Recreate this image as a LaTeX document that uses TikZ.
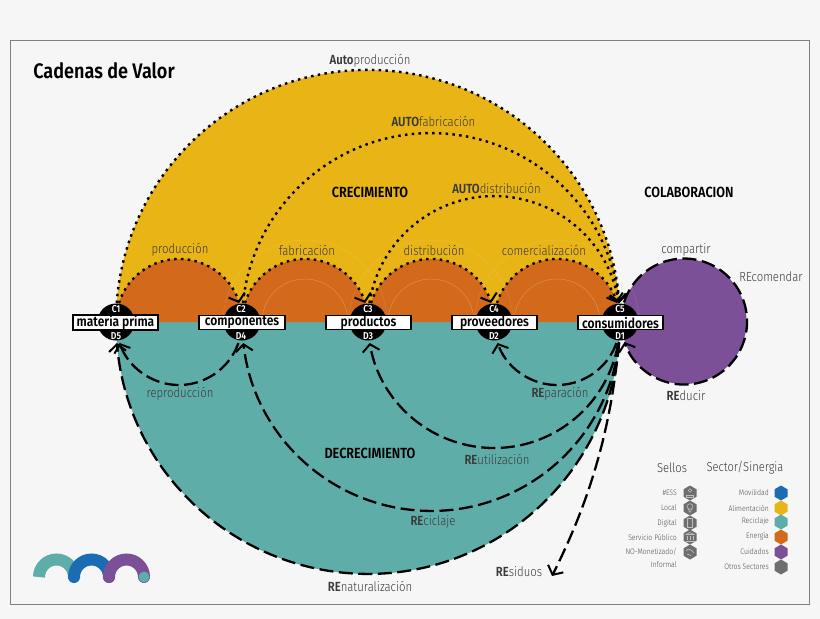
\documentclass[tikz,border=0pt]{standalone}
\usepackage{fontspec}
\setmainfont[FakeStretch=0.86]{Fira Sans Light}[BoldFont={Fira Sans SemiBold}]
\usetikzlibrary{arrows.meta}
\definecolor{yel}{HTML}{E8B416}
\definecolor{ora}{HTML}{D2691B}
\definecolor{tea}{HTML}{5FADA9}
\definecolor{pur}{HTML}{7B5097}
\definecolor{blu}{HTML}{1C6CB3}
\definecolor{gry}{HTML}{6E6E6E}
\definecolor{bgc}{HTML}{F6F6F6}
\definecolor{txt}{HTML}{3A3A3A}
\tikzset{
 x=1pt,y=-1pt,
 dotl/.style={line width=2.4pt,dash pattern=on 2.5pt off 4.3pt,black},
 dashl/.style={line width=2.3pt,dash pattern=on 14pt off 5.5pt,black},
 tipo/.style={-{Straight Barb[length=7pt,width=17pt,line width=2pt]}},
 lab/.style={font=\fontsize{13.2}{15}\selectfont,text=txt,inner sep=0pt},
 head/.style={font=\bfseries\fontsize{14.7}{16}\selectfont,text=black,inner sep=0pt},
 cnode/.style={circle,fill=black,minimum size=37pt,inner sep=0pt},
 cd/.style={font=\bfseries\fontsize{10}{11}\selectfont,text=white,inner sep=0pt},
 bx/.style={draw=black,fill=white,line width=1.8pt,minimum height=14pt,minimum width=85.5pt,inner sep=0pt,font=\bfseries\fontsize{14}{15}\selectfont},
 sm/.style={font=\fontsize{8}{9}\selectfont,text=black!70,inner sep=0pt,anchor=east},
 icon/.style={draw=black!25,line width=.6pt},
}
\newcommand{\hexa}[3]{\fill[#3] (#1,#2-7.5) -- (#1+6.5,#2-3.7) -- (#1+6.5,#2+3.7) -- (#1,#2+7.5) -- (#1-6.5,#2+3.7) -- (#1-6.5,#2-3.7) -- cycle;}
\begin{document}
\begin{tikzpicture}
\useasboundingbox (0,0) rectangle (820,619);
\fill[bgc] (0,0) rectangle (820,619);
\draw[draw=black!50,line width=0.9pt] (10.5,40.5) rectangle (809.5,604.5);
% fills
\fill[yel] (116,322) arc[start angle=180,end angle=360,radius=252];
\fill[tea] (116,322) arc[start angle=180,end angle=0,radius=252];
\fill[ora] (116,322) arc[start angle=180,end angle=360,radius=63];
\fill[ora] (242,322) arc[start angle=180,end angle=360,radius=63];
\fill[ora] (368,322) arc[start angle=180,end angle=360,radius=63];
\fill[ora] (494,322) arc[start angle=180,end angle=360,radius=63];
\fill[pur] (684,321.5) circle[radius=62.5];
% faint rings
\begin{scope}[white,line width=.5pt]
\foreach \c in {305,431,557}{
 \draw[opacity=.25] (\c-43,322) arc[start angle=180,end angle=360,radius=43];
 \draw[opacity=.13] (\c-82,322) arc[start angle=180,end angle=360,radius=82];}
\end{scope}
% nodes
\node[cnode] (n1) at (116,322) {};
\node[cnode] (n2) at (242,322) {};
\node[cnode] (n3) at (368,322) {};
\node[cnode] (n4) at (494,322) {};
\node[cnode] (n5) at (620,322) {};
% dotted arcs (upper half)
\coordinate (a0) at (116.7,303);
\coordinate (a1) at (119,303);
\coordinate (a2) at (245,303);
\coordinate (a3) at (371,303);
\coordinate (a4) at (497,303);
\coordinate (a5) at (243,303);
\coordinate (a6) at (369.5,303);
\draw[dotl,tipo] (a0) arc[start angle=184.3,end angle=355.7,radius=252];
\draw[dotl,tipo] (a1) arc[start angle=197.5,end angle=342.5,radius=63];
\draw[dotl,tipo] (a2) arc[start angle=197.5,end angle=342.5,radius=63];
\draw[dotl,tipo] (a3) arc[start angle=197.5,end angle=342.5,radius=63];
\draw[dotl,tipo] (a4) arc[start angle=197.5,end angle=342.5,radius=63];
\draw[dotl,tipo] (a5) arc[start angle=185.8,end angle=354.2,radius=189];
\draw[dotl,tipo] (a6) arc[start angle=188.7,end angle=351.3,radius=126];
% dashed arcs (lower half)
\coordinate (d1) at (616.4,343);
\coordinate (d2) at (238.4,343);
\coordinate (d3) at (618.2,343);
\coordinate (d4) at (619,343);
\coordinate (d5) at (619.1,343);
\coordinate (d6) at (619,342);
\coordinate (res) at (552,576);
\draw[dashl,tipo] (d1) arc[start angle=19.5,end angle=160.5,radius=63];
\draw[dashl,tipo] (d2) arc[start angle=19.5,end angle=160.5,radius=63];
\draw[dashl,tipo] (d3) arc[start angle=9.6,end angle=170.4,radius=126];
\draw[dashl,tipo] (d4) arc[start angle=6.4,end angle=173.6,radius=189];
\draw[dashl,tipo] (d5) arc[start angle=4.8,end angle=175.2,radius=252];
\draw[dashl,tipo] (d6) .. controls (610,440) and (585,510) .. (res);
% purple ring
\coordinate (p0) at (624,302.5);
\draw[dashl,tipo] (p0) arc[start angle=197.6,end angle=521,radius=63];
% labels
\node[cd] (c1) at (116,309) {C1};\node[cd] (d5l) at (116,336) {D5};
\node[cd] (c2) at (241,309) {C2};\node[cd] (d4l) at (241,336) {D4};
\node[cd] (c3) at (368,309) {C3};\node[cd] (d3l) at (368,336) {D3};
\node[cd] (c4) at (494,309) {C4};\node[cd] (d2l) at (494,336) {D2};
\node[cd] (c5) at (620,309) {C5};\node[cd] (d1l) at (620,336) {D1};
\node[bx] (bmp) at (115.5,322.5) {materia prima};
\node[bx] (bco) at (242,322.5) {componentes};
\node[bx] (bpr) at (368.5,322.5) {productos};
\node[bx] (bpv) at (494.5,322.5) {proveedores};
\node[bx] (bcs) at (620.5,322.5) {consumidores};
\node[font=\bfseries\fontsize{21}{24}\selectfont,inner sep=0pt] (title) at (104,71) {Cadenas de Valor};
\node[lab] (l1) at (370,61) {\textbf{Auto}producción};
\node[lab] (l2) at (433.5,121) {\textbf{AUTO}fabricación};
\node[lab] (l3) at (496.5,188) {\textbf{AUTO}distribución};
\node[head] (h1) at (370,192) {CRECIMIENTO};
\node[head] (h2) at (689,192) {COLABORACION};
\node[head] (h3) at (370,453) {DECRECIMIENTO};
\node[lab] (l4) at (180,250) {producción};
\node[lab] (l5) at (307,250) {fabricación};
\node[lab] (l6) at (434,250) {distribución};
\node[lab] (l7) at (544,250) {comercialización};
\node[lab] (l8) at (686,250) {compartir};
\node[lab] (l9) at (771,277) {REcomendar};
\node[lab] (l10) at (180,393.5) {reproducción};
\node[lab] (l11) at (560,393.5) {\textbf{RE}paración};
\node[lab] (l12) at (686,396) {\textbf{RE}ducir};
\node[lab] (l13) at (497,459) {\textbf{RE}utilización};
\node[lab] (l14) at (433,522) {\textbf{RE}ciclaje};
\node[lab] (l15) at (370,586) {\textbf{RE}naturalización};
\node[lab] (l16) at (519,572) {\textbf{RE}siduos};
% legend
\node[lab,font=\fontsize{13}{15}\selectfont] (s0) at (672,468) {Sellos};
\node[lab,font=\fontsize{13}{15}\selectfont] (s1) at (745,468) {Sector/Sinergia};
\node[sm] (s2) at (677,493) {\#ESS};
\node[sm] (s3) at (677,508) {Local};
\node[sm] (s4) at (677,523) {Digital};
\node[sm] (s5) at (677,537) {Servicio Público};
\node[sm] (s6) at (677,552) {NO-Monetizado/};
\node[sm] (s7) at (677,565) {Informal};
\node[sm] (s8) at (769,493) {Movilidad};
\node[sm] (s9) at (769,508) {Alimentación};
\node[sm] (s10) at (769,521) {Reciclaje};
\node[sm] (s11) at (769,536) {Energía};
\node[sm] (s12) at (769,552) {Cuidados};
\node[sm] (s13) at (769,567) {Otros Sectores};
\hexa{690}{493}{gry}\hexa{690}{508}{gry}\hexa{690}{523}{gry}\hexa{690}{537}{gry}\hexa{690}{552}{gry}
\hexa{781}{493}{blu}\hexa{781}{508}{yel}\hexa{781}{522}{tea}\hexa{781}{537}{ora}\hexa{781}{552}{pur}\hexa{781}{567}{gry}
% seal icons
\draw[icon] (690,490.5) circle[radius=1.8];
\draw[icon] (686.5,497) -- (686.5,495) -- (693.5,495) -- (693.5,497) -- cycle;
\draw[icon] (690,506.5) circle[radius=2.8];
\draw[icon] (688,509) -- (690,512.5) -- (692,509);
\draw[icon] (687.5,518.5) rectangle (692.5,527.5);
\draw[icon] (686,534.5) -- (690,532.5) -- (694,534.5) -- cycle;
\draw[icon] (687,536) -- (687,540) (690,536) -- (690,540) (693,536) -- (693,540) (685.5,541) -- (694.5,541);
\draw[icon] (686,551) .. controls (688,548) and (691,549) .. (694,553);
\draw[icon] (687,554) -- (691,555.5);
% logo
\draw[tea,line width=12pt] (39,577) arc[start angle=180,end angle=360,radius=17.5];
\draw[blu,line width=12pt,line cap=round] (74,577) arc[start angle=180,end angle=360,radius=17.5];
\draw[pur,line width=12pt,line cap=round] (109,577) arc[start angle=180,end angle=360,radius=17.5];
\fill[tea] (144,577) circle[radius=5.5];
\end{tikzpicture}
\end{document}
